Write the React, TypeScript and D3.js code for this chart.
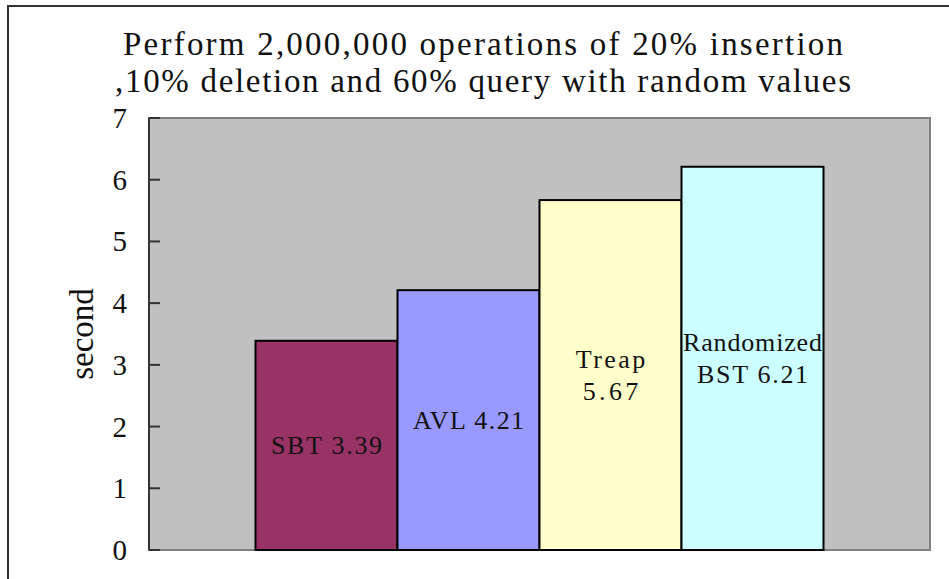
import * as d3 from 'd3';

// data
const categories = ['SBT', 'AVL', 'Treap', 'Randomized BST'];
const values = [3.39, 4.21, 5.67, 6.21];
const barLabels = [['SBT 3.39'], ['AVL 4.21'], ['Treap', '5.67'], ['Randomized', 'BST 6.21']];
const colors = ['#993366', '#9999FF', '#FFFFCC', '#CCFFFF'];
const yTicks = [0, 1, 2, 3, 4, 5, 6, 7];
const titleLines = [
  'Perform 2,000,000 operations of 20% insertion',
  ',10% deletion and 60% query with random values',
];

const W = 949;
const H = 579;
const plot = { left: 149, top: 118, right: 930, bottom: 550 };
const serif = '"Liberation Serif", "DejaVu Serif", serif';

const App = () => {
  const x = d3.scaleBand<string>()
    .domain(categories)
    .range([plot.left, plot.right])
    .paddingInner(0)
    .paddingOuter(0.75); // excel gap width 150%

  const y = d3.scaleLinear()
    .domain([0, 7])
    .range([plot.bottom, plot.top]);

  const labelChar = 13.9;
  const lineGap = 32;

  return (
    <div style={{ position: 'absolute', left: 0, top: 0 }}>
      <svg width={W} height={H} style={{ display: 'block' }}>
        <rect x={0} y={0} width={W} height={H} fill="#fff" />
        {/* outer chart frame, runs off the picture */}
        <rect x={8} y={6} width={W + 20} height={H + 20} fill="none" stroke="#333" strokeWidth={2} />

        {titleLines.map((t, i) => (
          <text
            key={i}
            x={483}
            y={55 + i * 37}
            textAnchor="middle"
            fontFamily={serif}
            fontSize={33}
            textLength={t.length * 16}
            lengthAdjust="spacing"
            fill="#111"
          >
            {t}
          </text>
        ))}

        {/* plot area */}
        <rect
          x={plot.left}
          y={plot.top}
          width={plot.right - plot.left}
          height={plot.bottom - plot.top}
          fill="#C0C0C0"
          stroke="#808080"
          strokeWidth={2}
        />

        {categories.map((c, i) => (
          <rect
            key={c}
            x={x(c)!}
            y={y(values[i])}
            width={x.bandwidth()}
            height={y(0) - y(values[i])}
            fill={colors[i]}
            stroke="#000"
            strokeWidth={2}
          />
        ))}

        {categories.map((c, i) => {
          const cx = x(c)! + x.bandwidth() / 2;
          const cy = (y(values[i]) + y(0)) / 2;
          const lines = barLabels[i];
          const first = cy + 9 - ((lines.length - 1) * lineGap) / 2;
          return lines.map((l, j) => (
            <text
              key={c + j}
              x={cx}
              y={first + j * lineGap}
              textAnchor="middle"
              fontFamily={serif}
              fontSize={26}
              textLength={l.length * labelChar}
              lengthAdjust="spacing"
              fill="#111"
            >
              {l}
            </text>
          ));
        })}

        {/* y axis */}
        <line x1={plot.left} x2={plot.left} y1={plot.top} y2={plot.bottom} stroke="#333" strokeWidth={2} />
        {yTicks.map((t) => (
          <g key={t}>
            <line x1={plot.left} x2={plot.left + 11} y1={y(t)} y2={y(t)} stroke="#333" strokeWidth={2} />
            <text
              x={127}
              y={y(t) + 10}
              textAnchor="end"
              fontFamily={serif}
              fontSize={29}
              fill="#111"
            >
              {t}
            </text>
          </g>
        ))}

        <text
          transform={`translate(93, ${(plot.top + plot.bottom) / 2}) rotate(-90)`}
          textAnchor="middle"
          fontFamily={serif}
          fontSize={33}
          fill="#111"
        >
          second
        </text>
      </svg>
    </div>
  );
};

export default App;
